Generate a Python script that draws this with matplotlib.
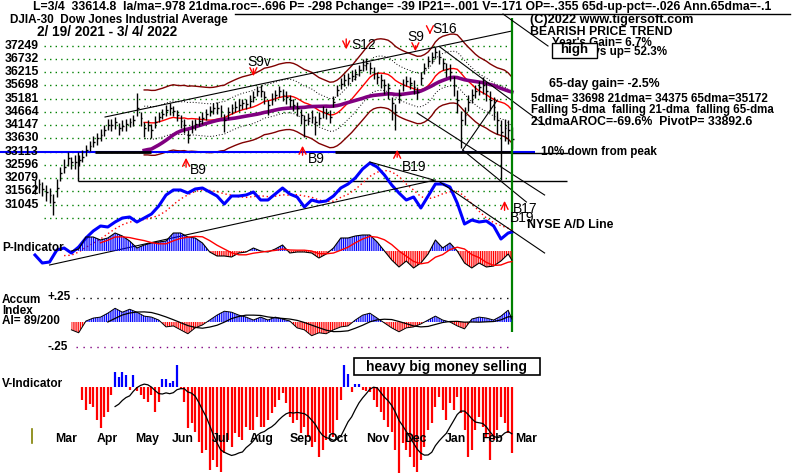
#!/usr/bin/env python3
import numpy as np
import pandas as pd
import matplotlib
matplotlib.use("Agg")
import matplotlib.pyplot as plt
from matplotlib.patches import Rectangle

# values; x is the trading-day index counted from 2/19/2021
CLOSE = [31750, 31850, 31650, 31557, 31427, 31167, 31687, 32272, 32532, 32857, 32701, 32727,
         32792, 32922, 33182, 33351, 33507, 33637, 33767, 33962, 34157, 34157, 34261, 34053,
         34131, 34183, 34261, 34352, 34807, 34417, 34027, 34157, 33962, 34287, 34482, 34573,
         34742, 34807, 34703, 34547, 34313, 34157, 33767, 34092, 34183, 34313, 34443, 34573,
         34703, 34807, 34833, 34703, 34352, 34651, 34807, 34872, 34937, 35002, 34963, 35093,
         35262, 35483, 35483, 35262, 34937, 35171, 35327, 35496, 35327, 35236, 35132, 34937,
         34807, 34547, 34352, 34417, 34482, 34287, 34417, 34677, 34612, 34482, 35067, 35522,
         35756, 35912, 35977, 36068, 36146, 36302, 36497, 36562, 36367, 36198, 36042, 35912,
         35717, 35587, 35002, 34677, 35327, 35717, 35886, 35808, 35652, 35457, 35977, 36367,
         36666, 36796, 37017, 36822, 36562, 36328, 36237, 35717, 35132, 34352, 34547, 35067,
         35327, 35496, 35626, 35717, 35496, 35132, 34846, 34352, 33897, 34027, 33962, 33615]
BAR_UP = [250, 200, 300, 250, 280, 300, 350, 250, 300, 250, 200, 250,
          200, 250, 200, 180, 220, 200, 250, 200, 220, 250, 200, 180,
          200, 220, 180, 200, 585, 250, 250, 200, 220, 200, 180, 200,
          200, 220, 180, 200, 250, 220, 200, 250, 200, 180, 200, 220,
          180, 200, 200, 220, 250, 200, 180, 200, 220, 180, 200, 250,
          220, 200, 250, 220, 200, 220, 200, 180, 220, 250, 200, 220,
          250, 220, 200, 220, 250, 220, 250, 200, 220, 250, 220, 200,
          220, 250, 200, 220, 200, 180, 220, 195, 250, 220, 200, 220,
          250, 200, 250, 300, 250, 220, 200, 220, 250, 200, 250, 220,
          200, 220, 195, 250, 220, 250, 300, 350, 400, 350, 300, 250,
          250, 220, 250, 300, 350, 350, 400, 350, 450, 350, 400, 450]
BAR_DN = [300, 350, 250, 350, 300, 520, 350, 300, 250, 300, 250, 300,
          250, 200, 250, 220, 200, 250, 220, 250, 200, 220, 250, 300,
          220, 250, 200, 250, 300, 300, 350, 250, 300, 250, 220, 200,
          220, 250, 200, 250, 280, 300, 325, 250, 220, 200, 250, 220,
          200, 220, 250, 220, 455, 250, 220, 200, 250, 220, 200, 250,
          220, 200, 250, 300, 390, 250, 220, 250, 220, 250, 280, 250,
          300, 350, 650, 280, 250, 520, 280, 250, 220, 250, 220, 250,
          200, 220, 250, 200, 220, 250, 220, 250, 220, 250, 280, 300,
          350, 400, 650, 715, 300, 250, 220, 250, 280, 300, 250, 220,
          250, 220, 250, 300, 280, 300, 350, 450, 500, 1105, 400, 350,
          300, 280, 300, 350, 400, 450, 500, 550, 1890, 500, 550, 400]

GRID_LEVELS = [37249, 36732, 36215, 35698, 35181, 34664, 34147, 33630,
               33113, 32596, 32079, 31562, 31045]
LOW_GRID = 30528
TEN_PCT_DOWN = 33113
SUPPORT = 31970

# NYSE A/D line, every 4th trading day
AD_LINE = [1750, -250, 0, 3000, 3500, 2250, 3750, 6000, 7750, 9000, 8750, 10000,
           11000, 11250, 10000, 11000, 12000, 14000, 16750, 18000, 18000, 17250, 18250, 18500,
           17500, 16500, 14500, 16500, 16500, 16750, 17500, 15500, 15500, 17000, 18500, 17000,
           16250, 13750, 15500, 15000, 15250, 16500, 18500, 19500, 21000, 23250, 24750, 23750,
           21750, 19250, 17250, 15500, 16250, 13500, 16500, 19500, 19500, 18750, 14750, 9500,
           10500, 10000, 10250, 9000, 5750, 7250, 7500]

# P-Indicator and Accumulation Index, every 4th trading day from day 20
P_IND = [0, 66, 462, 462, 363, 429, 594, 495, 330, 99, 198, 264, 297, 330, 594, 594,
         462, 429, 264, -33, -165, -165, -198, -66, -33, 99, 0, -33, 66, 198, -66, -33,
         -33, -66, -231, -99, 99, 429, 429, 495, 528, 528, 297, 0, -297, -528, -330, -561,
         -396, -99, 363, 99, 264, 0, -396, -561, -396, -528, -495, -330, -99, -298]
ACCUM = [-0.08, -0.11, 0.01, 0.04, 0.05, 0.09, 0.14, 0.10, 0.13, 0.10, 0.06, 0.05,
         0.02, -0.05, -0.04, -0.08, -0.12, -0.06, -0.03, 0.02, 0.07, 0.11, 0.10, 0.07,
         0.05, 0.02, 0.05, 0.02, 0.05, 0.03, 0.01, -0.06, -0.08, -0.14, -0.11, -0.12,
         -0.08, -0.05, -0.04, 0.02, 0.07, 0.09, 0.04, -0.01, -0.06, -0.10, -0.06, -0.05,
         -0.02, 0.02, 0.06, 0.02, 0.0, -0.04, -0.07, 0.03, 0.05, 0.04, 0.02, 0.06, 0.12, 0.03]

# V-Indicator, every 2nd trading day from day 26
V_IND = [-34, -60, -44, -52, -86, -107, -78, -65, -21, 39,
         26, 39, 31, -8, 31, -10, -21, -31, -39, -21,
         -65, -39, 21, 21, 10, 16, 57, -5, -39, -107,
         -94, -117, -143, -172, -164, -216, -190, -208, -221, -172,
         -138, -156, -120, -130, -138, -104, -112, -112, -78, -104,
         -104, -86, -68, -52, -34, -16, -42, -78, -94, -86,
         -120, -104, -130, -156, -143, -182, -164, -138, -120, -130,
         -86, -34, 57, 34, -13, 8, 8, -8, -10, -13,
         -34, -52, -65, -86, -104, -117, -164, -224, -146, -164,
         -182, -208, -221, -190, -156, -112, -94, -52, -26, -60,
         -86, -42, -60, -26, -68, -112, -182, -164, -112, -78,
         -104, -130, -190, -138, -112, -78, -94, -120, -172]

MONTHS = ["Mar", "Apr", "May", "Jun", "Jul", "Aug", "Sep", "Oct", "Nov", "Dec", "Jan", "Feb", "Mar"]
MONTH_START = [6, 29, 50, 70, 92, 113, 135, 156, 177, 198, 220, 240, 259]

# signal, day, arrow tip, arrow tail
SIGNALS = [("B9", 83, 32984, 32399), ("B9", 147, 33452, 32867), ("B19", 199, 33296, 32789),
           ("S9v", 120, 35950, 36457), ("S12", 171, 36997, 37621), ("S9", 209, 36925, 37354),
           ("S16", 217, 37588, 37900), ("", 258, 31303, 30718)]
SIGNAL_TEXT_POS = [(4, 170), (5, 159), (5, 167), (-6, 62), (5, 45), (-8, 37), (2, 29), (0, 0)]

PRICE_LINES = [((38.5, 34467), (262, 37822)), ((222.5, 37198), (280, 34155)),
               ((210, 34623), (280, 31423)), ((235, 33179), (270, 31150)),
               ((235, 33179), (254, 35130))]
AD_LINES = [((8, -750), (220, 20500)), ((184, 25000), (219, 20500)), ((222.5, 20000), (280, 2250))]

W, H = 800, 473
X0_PX, PX_PER_DAY = 35, 1.82
RED, BLUE, GREEN, MAROON, PURPLE = "#ff0000", "#0000ff", "#008000", "#800000", "#800080"

plt.rcParams["font.family"] = ["Liberation Sans", "DejaVu Sans"]
plt.rcParams["hatch.linewidth"] = 0.8

fig = plt.figure(figsize=(W / 100, H / 100), dpi=100)
fig.patch.set_facecolor("white")


def idx_at(px):
    return (px - X0_PX) / PX_PER_DAY


def panel(name, ref_val, ref_px, per_px):
    ax = fig.add_axes([0, 0, 1, 1], label=name)
    ax.set_xlim(idx_at(0), idx_at(W))
    ax.set_ylim(ref_val + (ref_px - H) * per_px, ref_val + ref_px * per_px)
    ax.set_axis_off()
    return ax


# ---------------- price panel ----------------
ax = panel("price", 33113, 151.7, 39.02)
close = np.array(CLOSE, dtype=float)
x = np.arange(len(close)) * 2
last = x[-1]

for lv in GRID_LEVELS + [LOW_GRID]:
    ax.hlines(lv, idx_at(44), last, color=GREEN, lw=1, linestyles=(0, (1, 3)))
for lv in GRID_LEVELS:
    ax.text(idx_at(5), lv, str(lv), fontsize=8.8, fontweight="bold", va="center", ha="left")

ma21 = pd.Series(close).rolling(11).mean().to_numpy()
ma65 = pd.Series(close).rolling(33, min_periods=30).mean().to_numpy()
ma21[:30] = np.nan
ma65[:30] = np.nan
ax.plot(x, ma21 * 1.037, color=MAROON, lw=1)
ax.plot(x, ma21 * 0.963, color=MAROON, lw=1)
ax.plot(x, ma21 * 1.0185, color="k", lw=0.7, ls=(0, (1, 2)))
ax.plot(x, ma21 * 0.9815, color="k", lw=0.7, ls=(0, (1, 2)))
ax.plot(x, ma21, color=RED, lw=1)
ax.plot(x, ma65, color=PURPLE, lw=2.6)

for (i0, v0), (i1, v1) in PRICE_LINES:
    ax.plot([i0, i1], [v0, v1], color="k", lw=0.8, clip_on=False)

ax.hlines(TEN_PCT_DOWN, idx_at(0), idx_at(535), color=BLUE, lw=1.5)
ax.hlines(TEN_PCT_DOWN - 25, 33, 64, color="k", lw=2)
ax.hlines(TEN_PCT_DOWN - 25, 165, last, color="k", lw=2)
ax.hlines(TEN_PCT_DOWN - 60, last, idx_at(568), color="k", lw=1)
ax.hlines(SUPPORT, idx_at(78), idx_at(567), color="k", lw=1)
ax.vlines(idx_at(78), SUPPORT, TEN_PCT_DOWN, color="k", lw=1)

high = close + np.array(BAR_UP)
low = close - np.array(BAR_DN)
ax.vlines(x, low, high, color="k", lw=1)
ax.hlines(close, x, x + 1.0, color="k", lw=1)

for name, i, tip, tail in SIGNALS:
    ax.annotate("", xy=(i, tip), xytext=(i, tail),
                arrowprops=dict(arrowstyle="->,head_length=0.5,head_width=0.25", color=RED, lw=1))

ax.vlines(last, 26078, 38330, color=GREEN, lw=1.6)

# ---------------- NYSE A/D line ----------------
ad = panel("ad", 0, 262, 250)
ad_vals = np.array(AD_LINE, dtype=float)
ad_x = np.r_[np.arange(0, 261, 4), last]
ad_ma = pd.Series(ad_vals).rolling(5).mean().to_numpy()
ad.plot(ad_x, ad_ma, color=RED, lw=1, ls=(0, (1, 2)))
ad.plot(ad_x, ad_vals, color=BLUE, lw=2.2)
for (i0, v0), (i1, v1) in AD_LINES:
    ad.plot([i0, i1], [v0, v1], color="k", lw=0.8)

# ---------------- P-Indicator ----------------
ind_x = np.r_[np.arange(20, 261, 4), last]
pi = panel("pind", 0, 251, 33)
p = np.array(P_IND, dtype=float)
pi.fill_between(ind_x, 0, p, where=p >= 0, interpolate=True, facecolor="none",
                edgecolor=BLUE, hatch="|" * 9, lw=0)
pi.fill_between(ind_x, 0, p, where=p <= 0, interpolate=True, facecolor="none",
                edgecolor=RED, hatch="|" * 9, lw=0)
pi.plot(ind_x, p, color="k", lw=0.8)
p_ma = pd.Series(p).rolling(5).mean().to_numpy()
pi.plot(ind_x, p_ma, color=RED, lw=1)

# ---------------- Accumulation Index ----------------
ai = panel("accum", 0, 322, 0.25 / 24.5)
a = np.array(ACCUM)
ai.hlines(0.25, idx_at(76), last, color="k", lw=1, linestyles=(0, (1, 4)))
ai.hlines(-0.25, idx_at(76), last, color=PURPLE, lw=1, linestyles=(0, (1, 4)))
ai.fill_between(ind_x, 0, a, where=a >= 0, interpolate=True, facecolor="none",
                edgecolor=BLUE, hatch="|" * 9, lw=0)
ai.fill_between(ind_x, 0, a, where=a <= 0, interpolate=True, facecolor="none",
                edgecolor=RED, hatch="|" * 9, lw=0)
ai.plot(ind_x, a, color="k", lw=0.7)
a_ma = pd.Series(a).rolling(6).mean().to_numpy()
ai.plot(ind_x, a_ma, color="k", lw=0.9)

# ---------------- V-Indicator ----------------
vi = panel("vind", 0, 387, 2.6)
v = np.array(V_IND, dtype=float)
v_x = np.arange(26, 26 + 2 * len(v), 2)
vi.vlines(v_x, 0, v, colors=np.where(v < 0, RED, BLUE), lw=1.6)
v_ma = pd.Series(v).rolling(10).mean().to_numpy()
vi.plot(v_x, v_ma, color="k", lw=0.9)

# ---------------- text layer (pixel coordinates) ----------------
t = fig.add_axes([0, 0, 1, 1], label="text")
t.set_xlim(0, W)
t.set_ylim(H, 0)
t.set_axis_off()


def put(px, py, s, size=8.8, weight="bold", ha="left", z=3):
    t.text(px, py, s, fontsize=size, fontweight=weight, va="center", ha=ha, zorder=z)


put(33, 7, "L=3/4  33614.8  la/ma=.978 21dma.roc=-.696 P= -298 Pchange= -39 IP21=-.001 "
           "V=-171 OP=-.355 65d-up-pct=-.026 Ann.65dma=-.1", size=8.85)
t.plot([235, 790], [14, 14], color="k", lw=1)
put(10, 20.5, "DJIA-30  Dow Jones Industrial Average", size=8.5)
put(37, 32, "2/ 19/ 2021 - 3/ 4/ 2022", size=9.8)
put(530, 20, "(C)2022 www.tigersoft.com", size=9.2)
put(530, 32, "BEARISH PRICE TREND", size=8.85)
put(552, 43, "Year's Gain= 6.7%", size=8.4)
put(667, 52, "% Days up= 52.3%", size=8.4, ha="right")
t.plot([503, 548], [14, 46], color="k", lw=0.8)
t.add_patch(Rectangle((552, 43), 45, 15, facecolor="white", edgecolor="k", lw=1, zorder=4))
put(574.5, 50.5, "high", size=9.6, ha="center", z=5)

put(549, 83.5, "65-day gain= -2.5%")
put(531, 99, "5dma= 33698 21dma= 34375 65dma=35172", size=8.45)
put(531, 110, "Falling 5-dma  falling 21-dma  falling 65-dma", size=8.3)
put(531, 122, "21dmaAROC=-69.6%  PivotP= 33892.6")
put(541, 152, "10% down from peak", size=8.4)

for (name, i, tip, tail), (dx, ty) in zip(SIGNALS, SIGNAL_TEXT_POS):
    if name:
        put(X0_PX + i * PX_PER_DAY + dx, ty, name, size=10, weight="normal")
put(513, 209, "B17", size=10, weight="normal")
put(510, 218, "B19", size=10, weight="normal")
put(527, 225, "NYSE A/D Line")

put(2, 247.5, "P-Indicator", size=8.5)
put(2, 299.5, "Accum", size=8.5)
put(2, 310.5, "Index", size=8.5)
put(2, 321, "AI= 89/200", size=8.5)
put(47, 297, "+.25", size=8.5)
put(47, 347, "-.25", size=8.5)
put(2, 384, "V-Indicator", size=8.5)

t.add_patch(Rectangle((354, 358), 186, 17, facecolor="white", edgecolor="k", lw=1.2, zorder=4))
put(447, 366.5, "heavy big money selling", size=10, ha="center", z=5)

for name, i in zip(MONTHS, MONTH_START):
    put(X0_PX + i * PX_PER_DAY + 9, 439, name, size=8.8)
t.plot([32, 32], [429, 443], color="#808000", lw=1.2)

fig.savefig("out.png", dpi=100)
